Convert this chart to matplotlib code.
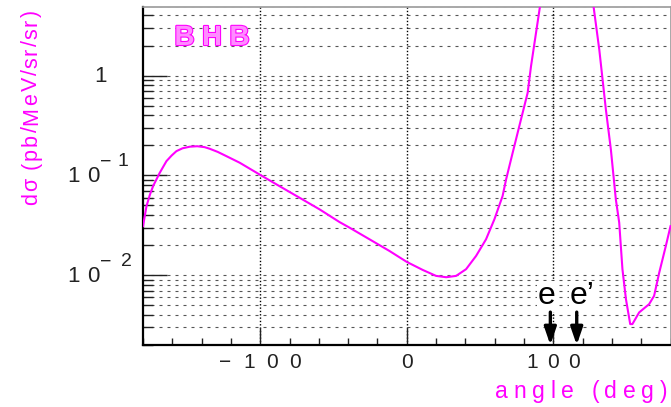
import matplotlib
matplotlib.use("Agg")
import matplotlib.pyplot as plt
from matplotlib.font_manager import FontProperties
from matplotlib.transforms import offset_copy, blended_transform_factory
from matplotlib.ticker import FixedLocator, LogLocator, MultipleLocator, NullFormatter
import matplotlib.patheffects as pe

# BHB differential cross section vs. lepton angle
angle = [-180, -177.6, -175.3, -173.1, -168.6, -164, -160.5, -157.2, -153, -148, -143,
         -138, -134.5, -129, -123.1, -114, -100.4, -86.8, -73.2, -59.5, -45.9,
         -39.1, -25.4, -11.8, 0, 10.9, 20, 26.9, 33.7, 40.5, 47.3,
         54.1, 59.8, 65.4, 67.8, 72.3, 76.8, 82.5, 84.8, 88.2, 90.9,
         95, 110, 124, 127.5, 131.4, 135.9, 139.3, 142.7, 145, 147.2,
         149.6, 152.5, 154, 158.6, 165.4, 168.8, 172.3, 176.8, 180]
dsigma = [0.031, 0.0493, 0.064, 0.0782, 0.106, 0.139, 0.158, 0.175, 0.187, 0.194, 0.196,
          0.192, 0.185, 0.172, 0.156, 0.134, 0.102, 0.078, 0.0598, 0.0457, 0.0341,
          0.030, 0.0229, 0.0175, 0.0136, 0.0113, 0.00985, 0.00955, 0.00985, 0.0115, 0.0156,
          0.0229, 0.0363, 0.0621, 0.0912, 0.169, 0.311, 0.671, 1.24, 2.67, 4.9,
          10.0, 40.0, 10.0, 4.9, 1.82, 0.457, 0.182, 0.0575, 0.0336, 0.0115,
          0.00575, 0.00324, 0.00324, 0.00424, 0.00513, 0.00621, 0.0106, 0.0196, 0.031]

x_ticks = [-100, 0, 100]
x_ticklabels = ["−100", "0", "100"]
y_decades = [1, 0.1, 0.01]
y_ticklabels = [("1", ""), ("10", "−1"), ("10", "−2")]

# lepton directions marked with arrows
lepton_names = ["e", "e’"]
lepton_angles = [98, 116]

MAG = "#ff00ff"
FONT = "Liberation Sans"
W, H, DPI = 671, 407, 100

fig = plt.figure(figsize=(W / DPI, H / DPI), dpi=DPI)
renderer = fig.canvas.get_renderer()

ax = fig.add_axes([143 / W, 62 / H, 527.5 / W, 338.3 / H])
ax.set_xlim(-180, 180)
ax.set_yscale("log")
ax.set_ylim(2e-3, 4.9)

# horizontal dashed grid at every log sub-decade
ax.yaxis.set_major_locator(FixedLocator(y_decades))
ax.yaxis.set_minor_locator(LogLocator(base=10, subs=range(2, 10)))
ax.yaxis.set_major_formatter(NullFormatter())
ax.yaxis.set_minor_formatter(NullFormatter())
for v in list(ax.yaxis.get_minorticklocs()) + y_decades:
    ax.axhline(v, color="#555555", lw=0.8, ls=(0, (2.7, 4.5)), zorder=1)
for v in x_ticks:
    ax.axvline(v, color="black", lw=1.0, ls=(0, (1, 1.4)), zorder=1)

ax.xaxis.set_major_locator(FixedLocator(x_ticks))
ax.xaxis.set_minor_locator(MultipleLocator(20))
ax.xaxis.set_major_formatter(NullFormatter())
ax.tick_params(axis="x", which="major", direction="in", length=12, width=1.0, color="#222222")
ax.tick_params(axis="x", which="minor", direction="in", length=5, width=1.0, color="#222222")
ax.tick_params(axis="y", which="major", direction="in", length=17, width=1.0, color="#222222")
ax.tick_params(axis="y", which="minor", direction="in", length=7, width=1.0, color="#222222")

for s in ("left", "bottom"):
    ax.spines[s].set_linewidth(1.6)
    ax.spines[s].set_color("black")
for s in ("top", "right"):
    ax.spines[s].set_linewidth(1.2)
    ax.spines[s].set_color("#999999")

ax.plot(angle, dsigma, color=MAG, lw=1.5, zorder=3)


def ink_width(ch, prop):
    if ch == " ":
        return prop.get_size_in_points() * DPI / 72 * 0.28
    w, h, d = renderer.get_text_width_height_descent(ch, prop, ismath=False)
    return w


def tracked(x, y, s, trans, prop, color, span=None, ha="center", rotation=0,
            dx=0.0, dy=0.0, **kw):
    """Draw a string one glyph at a time, spread evenly over `span` pixels."""
    widths = [ink_width(c, prop) for c in s]
    if span is None or len(s) < 2:
        gap = 0.0
        span = sum(widths)
    else:
        gap = (span - sum(widths)) / (len(s) - 1)
    pos = {"left": 0.0, "center": -span / 2, "right": -span}[ha]
    out = []
    for c, w in zip(s, widths):
        d = pos + w / 2
        ox, oy = (d + dx, dy) if rotation == 0 else (dx, d + dy)
        tr = offset_copy(trans, fig=fig, x=ox, y=oy, units="dots")
        out.append(fig.text(x, y, c, transform=tr, ha="center", va="baseline",
                            rotation=rotation, rotation_mode="anchor",
                            fontproperties=prop, color=color, **kw))
        pos += w + gap
    return out


tick_prop = FontProperties(family=FONT, size=15)
ylab_prop = FontProperties(family=FONT, size=16)
sup_prop = FontProperties(family=FONT, size=14)
axis_prop = FontProperties(family=FONT, size=16.5)
ytitle_prop = FontProperties(family=FONT, size=15.5)

# x tick labels
xt = ax.get_xaxis_transform()
x_spans = [82, None, 54]
for v, lab, sp in zip(x_ticks, x_ticklabels, x_spans):
    tracked(v, 0, lab, xt, tick_prop, "#222222", span=sp, dy=-23)

# y tick labels, drawn as base plus raised exponent
yt = blended_transform_factory(fig.transFigure, ax.transData)
for v, (base, expo) in zip(y_decades, y_ticklabels):
    if expo:
        tracked(67 / W, v, base, yt, ylab_prop, "#222222", span=33, ha="left", dy=-7)
        tracked(100 / W, v, expo, yt, sup_prop, "#222222",
                span=28 if expo.endswith("1") else 32, ha="left", dy=9)
    else:
        tracked(107 / W, v, base, yt, ylab_prop, "#222222", ha="right", dy=-6)

# axis titles
tracked(667 / W, 9 / H, "angle (deg)", fig.transFigure, axis_prop, MAG,
        span=172, ha="right")
tracked(37 / W, (H - 107.5) / H, "dσ (pb/MeV/sr/sr)", fig.transFigure,
        ytitle_prop, MAG, span=195, ha="center", rotation=90)

# process label
bhb_prop = FontProperties(family=FONT, size=20, weight="bold")
bhb = tracked(0.1308, 0.8868, "BHB", ax.transAxes, bhb_prop, "#ff8cff", span=75)
for t in bhb:
    t.set_path_effects([pe.Stroke(linewidth=1.6, foreground=MAG), pe.Normal()])

# lepton arrows
lab_x = [89, 111]
for name, a, lx in zip(lepton_names, lepton_angles, lab_x):
    ax.annotate("", xy=(a, 2e-3), xytext=(a, 0.00427),
                arrowprops=dict(arrowstyle="-|>,head_width=0.36,head_length=1.05",
                                lw=2.4, color="black", shrinkA=0, shrinkB=0),
                zorder=6, annotation_clip=False)
    ax.text(lx, 0.00513, name, ha="left", va="baseline", fontsize=23,
            family=FONT, color="black", zorder=5,
            bbox=dict(facecolor="white", edgecolor="none", pad=0.5))

fig.savefig("out.png", dpi=DPI)
